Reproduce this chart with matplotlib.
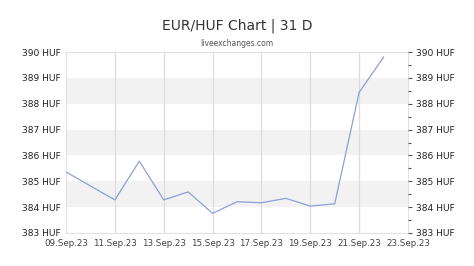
import matplotlib
matplotlib.use('Agg')
import matplotlib.pyplot as plt
import matplotlib.dates as mdates
import numpy as np
import datetime as dt

# EUR/HUF daily rates
days = ['2023-09-09', '2023-09-10', '2023-09-11', '2023-09-12', '2023-09-13',
        '2023-09-14', '2023-09-15', '2023-09-16', '2023-09-17', '2023-09-18',
        '2023-09-19', '2023-09-20', '2023-09-21', '2023-09-22']
rates = [385.36, 384.82, 384.28, 385.78, 384.28, 384.59, 383.76, 384.21,
         384.17, 384.34, 384.04, 384.13, 388.44, 389.80]
tick_days = ['2023-09-09', '2023-09-11', '2023-09-13', '2023-09-15',
             '2023-09-17', '2023-09-19', '2023-09-21', '2023-09-23']
y_ticks = [383, 384, 385, 386, 387, 388, 389, 390]

x = [dt.datetime.strptime(d, '%Y-%m-%d') for d in days]
xt = [dt.datetime.strptime(d, '%Y-%m-%d') for d in tick_days]

fig = plt.figure(figsize=(4.74, 2.66), dpi=100)
W, H = 474.0, 266.0
ax = fig.add_axes([66 / W, (H - 233) / H, (408 - 66) / W, (233 - 52) / H])

# alternating bands
for lo in [384, 386, 388]:
    ax.axhspan(lo, lo + 1, color='#f2f2f2', zorder=0, lw=0)
for t in xt[1:-1]:
    ax.axvline(t, color='#dcdcdc', lw=0.9, zorder=1)

ax.plot(x, rates, color='#8c9fd6', lw=0.9, zorder=3)

ax.set_xlim(xt[0], xt[-1])
ax.set_ylim(383, 390)
ax.set_xticks(xt)
ax.xaxis.set_major_formatter(mdates.DateFormatter('%d.%b.%y'))
ax.set_yticks(y_ticks)
ax.set_yticklabels(['%d HUF' % v for v in y_ticks])
ax.tick_params(axis='x', length=0, pad=4, labelsize=6.3, labelcolor='#444444')
ax.tick_params(axis='y', length=0, pad=4, labelsize=6.6, labelcolor='#222222')
for s in ax.spines.values():
    s.set_color('#e2e2e2')
    s.set_linewidth(0.8)

ax2 = ax.twinx()
ax2.set_ylim(383, 390)
ax2.set_yticks(y_ticks)
ax2.set_yticklabels(['%d HUF' % v for v in y_ticks])
ax2.set_yticks(np.arange(383.5, 390, 1.0), minor=True)
ax2.tick_params(axis='y', which='major', length=3, width=0.8, color='#555555',
                pad=3, labelsize=6.6, labelcolor='#222222')
ax2.tick_params(axis='y', which='minor', length=2, width=0.8, color='#555555')
for s in ax2.spines.values():
    s.set_visible(False)

fig.text(0.5, 1 - 26 / H, 'EUR/HUF Chart | 31 D', ha='center', va='center',
         fontsize=10, color='#333333')
fig.text(0.5, 1 - 43 / H, 'liveexchanges.com', ha='center', va='center',
         fontsize=5.5, color='#555555')

fig.savefig('out.png', dpi=100)
